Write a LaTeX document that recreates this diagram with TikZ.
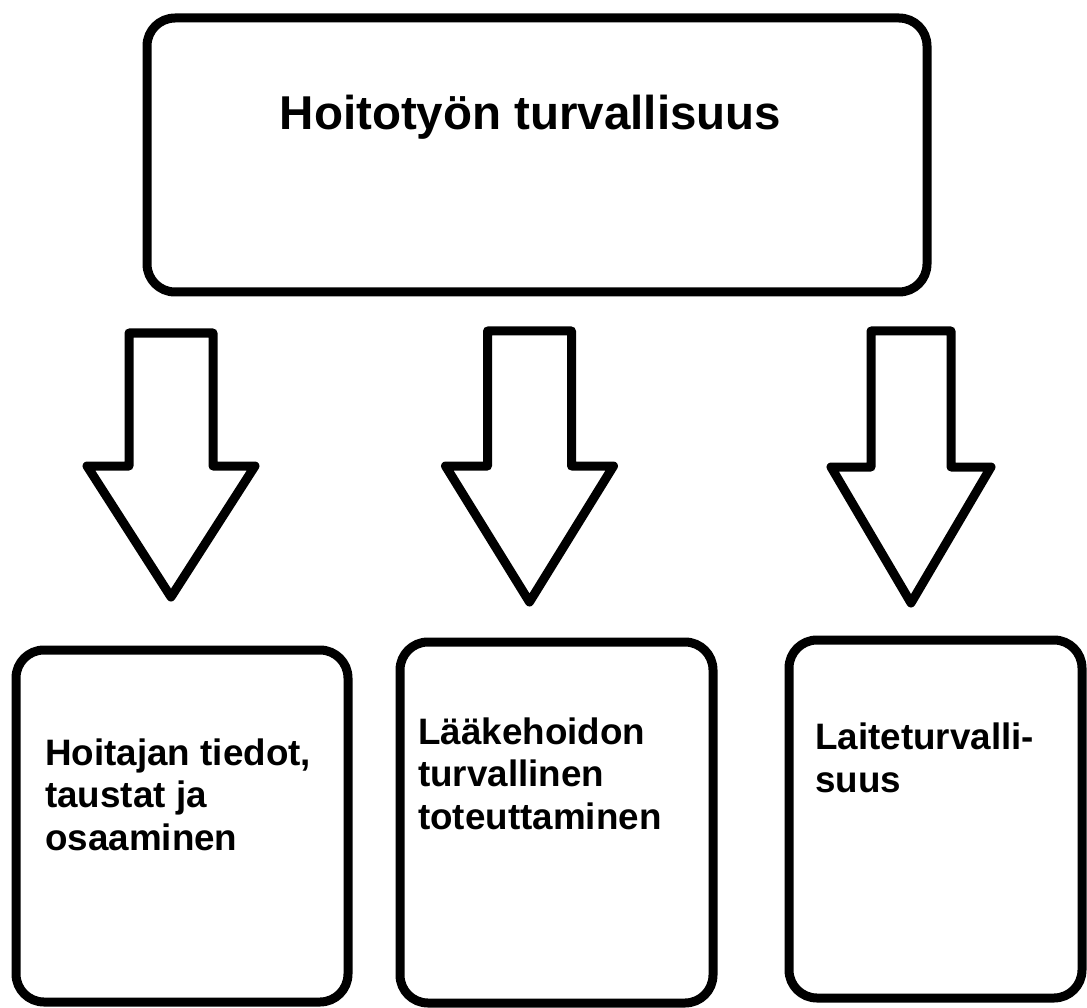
\documentclass[tikz,border=0pt]{standalone}
\usepackage{fontspec}
\setmainfont{Liberation Sans}
\begin{document}
\begin{tikzpicture}[x=1pt,y=-1pt,
  box/.style={draw=black, line width=9pt, rounded corners=28pt, fill=white, inner sep=0pt},
  blockarrow/.style={draw=black, line width=9pt, line join=round, fill=white},
  title/.style={inner sep=0pt, anchor=base, font=\fontsize{47.5}{52}\selectfont\bfseries},
  label/.style={inner sep=0pt, anchor=base west, align=left, font=\fontsize{36.8}{42.5}\selectfont\bfseries}]
\useasboundingbox (0,0) rectangle (1087,1008);
\fill[white] (0,0) rectangle (1087,1008);

% main topic box
\node[box, minimum width=780pt, minimum height=274pt] (top) at (537,155) {};
\node[title] (toptext) at (530.5,130) {Hoitotyön turvallisuus};

% three sub-topic boxes
\node[box, minimum width=332pt, minimum height=352pt] (b1) at (182,826) {};
\node[box, minimum width=313pt, minimum height=361pt] (b2) at (556.5,822.5) {};
\node[box, minimum width=293pt, minimum height=358pt] (b3) at (935.5,819) {};

% labels, placed by the baseline of their last line
\node[label] (t1) at (45,850) {Hoitajan tiedot,\\taustat ja\\osaaminen};
\node[label] (t2) at (418,829) {Lääkehoidon\\turvallinen\\toteuttaminen};
\node[label] (t3) at (815,792) {Laiteturvalli-\\suus};

% block arrows from the main box down to each sub-topic
\coordinate (a1) at (171,333);
\coordinate (a2) at (529.5,331);
\coordinate (a3) at (911,331);
\draw[blockarrow] (a1) ++(-42,0) -- ++(0,133) -- ++(-42,0) -- ++(84,131) -- ++(84,-131) -- ++(-42,0) -- ++(0,-133) -- cycle;
\draw[blockarrow] (a2) ++(-42,0) -- ++(0,135) -- ++(-42,0) -- ++(84,136) -- ++(84,-136) -- ++(-42,0) -- ++(0,-135) -- cycle;
\draw[blockarrow] (a3) ++(-40,0) -- ++(0,136) -- ++(-40,0) -- ++(80,136) -- ++(80,-136) -- ++(-40,0) -- ++(0,-136) -- cycle;
\end{tikzpicture}
\end{document}
